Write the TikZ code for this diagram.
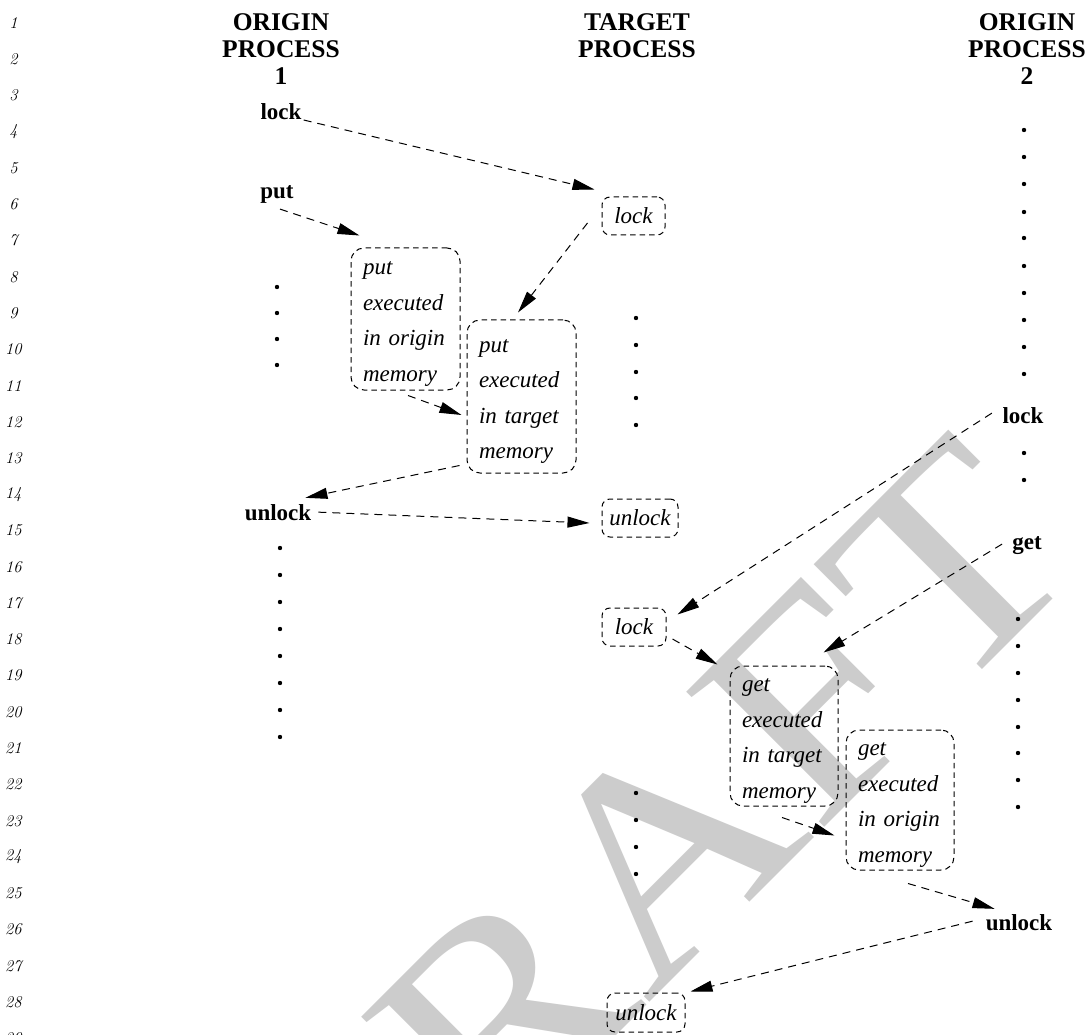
\documentclass[tikz,border=0pt]{standalone}
\usepackage{fontspec}
\newfontfamily\tms{Liberation Serif}
\usetikzlibrary{arrows.meta}
\definecolor{wmgray}{RGB}{204,204,204}
\newcommand{\fstrut}{\rule{0pt}{23pt}}
\begin{document}
\begin{tikzpicture}[x=1pt,y=-1pt,
  hd/.style={align=center,inner sep=0pt,font=\tms\bfseries\fontsize{25.5}{27}\selectfont},
  lbl/.style={anchor=base,inner sep=2pt,font=\tms\bfseries\fontsize{23}{27}\selectfont},
  bigbox/.style={draw,line width=1pt,dash pattern=on 5.5pt off 4pt,rounded corners=13pt,
     inner xsep=12pt,inner ysep=0pt,align=left,font=\tms\itshape\fontsize{23}{35.5}\selectfont},
  smallbox/.style={draw,line width=1pt,dash pattern=on 5.5pt off 4pt,rounded corners=8pt,
     inner sep=0pt,align=center,font=\tms\itshape\fontsize{23}{27}\selectfont},
  arr/.style={draw,line width=1pt,dash pattern=on 8pt off 6pt,-{Triangle[length=22pt,width=11pt]}},
  lnum/.style={inner sep=0pt,font=\fontsize{16.5}{16.5}\selectfont\itshape},
  dotm/.style={fill=black}
]
\useasboundingbox (0,0) rectangle (1088,1035);
\fill[white] (0,0) rectangle (1088,1035);
% watermark
\node[rotate=45,xscale=1.12,anchor=base,inner sep=0pt,text=wmgray,font=\tms\fontsize{295}{295}\selectfont] (wm) at (706,946) {DRAFT};
% line numbers
\foreach \n in {1,...,29} {
  \node[lnum] (ln\n) at (13.5,{23+(\n-1)*36.26}) {\n};
}
% headers
\node[hd] (h1) at (281,49) {ORIGIN\\PROCESS\\1};
\node[hd] (h2) at (637,35.5) {TARGET\\PROCESS};
\node[hd] (h3) at (1027,49) {ORIGIN\\PROCESS\\2};
% labels
\node[lbl] (o1lock) at (281,120) {lock};
\node[lbl] (o1put) at (277,199) {put};
\node[lbl] (o1unlock) at (278,520) {unlock};
\node[lbl] (o2lock) at (1023,423) {lock};
\node[lbl] (o2get) at (1027,549) {get};
\node[lbl] (o2unlock) at (1019,930) {unlock};
% boxes
\node[smallbox,minimum width=63pt,minimum height=38pt] (lk1) at (633.5,216) {lock};
\node[bigbox,text width=85pt,minimum height=142pt] (po) at (405.5,319) {\fstrut put\\executed\\in origin\\memory};
\node[bigbox,text width=85pt,minimum height=153pt] (pt) at (521.5,396.5) {\fstrut put\\executed\\in target\\memory};
\node[smallbox,minimum width=76pt,minimum height=38pt] (ul1) at (640,518) {unlock};
\node[smallbox,minimum width=64pt,minimum height=38pt] (lk2) at (634,627) {lock};
\node[bigbox,text width=84pt,minimum height=140pt] (gt) at (784,736) {\fstrut get\\executed\\in target\\memory};
\node[bigbox,text width=84pt,minimum height=140pt] (go) at (900,800) {\fstrut get\\executed\\in origin\\memory};
\node[smallbox,minimum width=78pt,minimum height=39pt] (ul2) at (646,1012.5) {unlock};
% dots
\foreach \y in {287,313,339,365} \fill[dotm] (277,\y) circle[radius=2.2pt];
\foreach \y in {548,575,602,629,656,683,710,737} \fill[dotm] (280,\y) circle[radius=2.2pt];
\foreach \y in {318,345,372,398,425} \fill[dotm] (636,\y) circle[radius=2.2pt];
\foreach \y in {793,820,847,874} \fill[dotm] (636,\y) circle[radius=2.2pt];
\foreach \y in {130,157,184,212,238,266,293,320,347,374} \fill[dotm] (1024,\y) circle[radius=2.2pt];
\foreach \y in {453,480} \fill[dotm] (1024,\y) circle[radius=2.2pt];
\foreach \y in {619,646,673,700,727,753,780,807} \fill[dotm] (1018,\y) circle[radius=2.2pt];
% connectors
\draw[arr] (o1lock.base east) -- ([shift={(-7,-7)}]lk1.north west);
\draw[arr] ([shift={(3,3)}]o1put.south) -- ([shift={(9,-12)}]po.north west);
\draw[arr] ([shift={(-14,7)}]lk1.west) -- ([shift={(-3.5,-7)}]pt.north);
\draw[arr] ([shift={(2.5,5)}]po.south) -- ([shift={(-5,18.5)}]pt.west);
\draw[arr] ([shift={(-7,-8)}]pt.south west) -- ([shift={(-8,-4)}]o1unlock.north east);
\draw[arr] ([shift={(5,0)}]o1unlock.east) -- ([shift={(-12,5)}]ul1.west);
\draw[arr] ([shift={(-8.5,-2)}]o2lock.west) -- ([shift={(11,7)}]lk2.north east);
\draw[arr] ([shift={(-8,-1)}]o2get.west) -- ([shift={(-15,-13)}]gt.north east);
\draw[arr] ([shift={(6,12)}]lk2.east) -- ([shift={(-12,-1)}]gt.north west);
\draw[arr] ([shift={(-2,11)}]gt.south) -- ([shift={(-11,-35)}]go.south west);
\draw[arr] ([shift={(8,13)}]go.south) -- ([shift={(11,-3)}]o2unlock.north west);
\draw[arr] ([shift={(-11,-1)}]o2unlock.west) -- ([shift={(5,-1)}]ul2.north east);
\end{tikzpicture}
\end{document}
